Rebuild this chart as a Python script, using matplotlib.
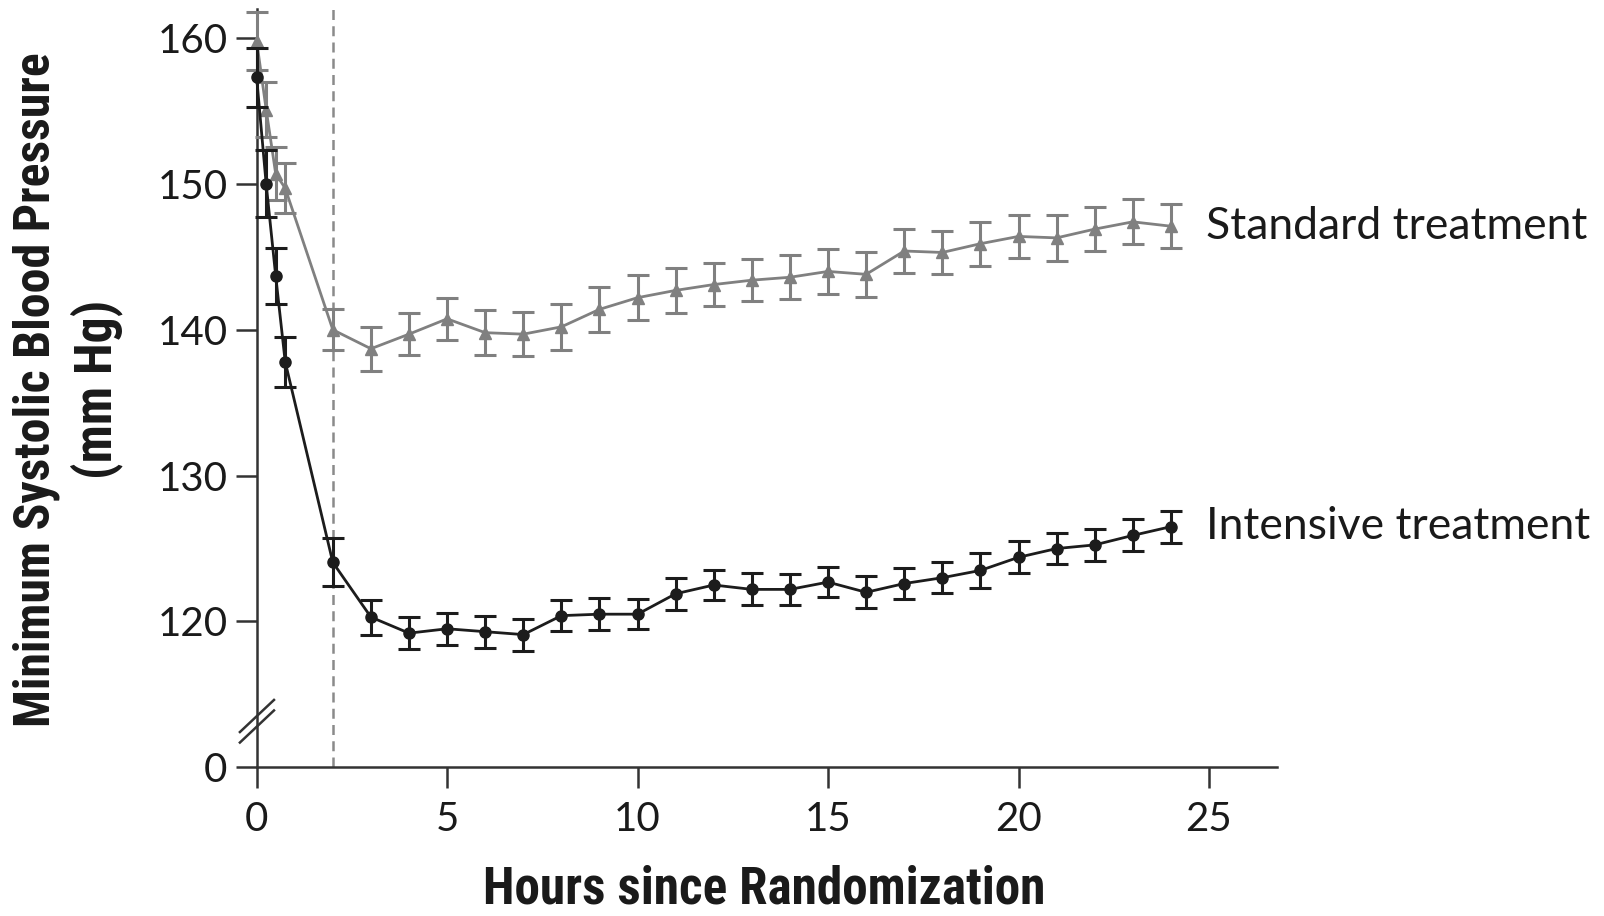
import matplotlib
matplotlib.use('Agg')
import matplotlib.pyplot as plt
from matplotlib import font_manager

# hours since randomization (first hour sampled every 15 min)
hours = [0, 0.25, 0.5, 0.75] + list(range(2, 25))

standard_mean = [159.8, 155.1, 150.7, 149.7,
                 140.0, 138.7, 139.7, 140.75, 139.8, 139.7, 140.2, 141.4, 142.2,
                 142.7, 143.1, 143.4, 143.6, 144.0, 143.8, 145.4, 145.3, 145.9,
                 146.4, 146.3, 146.9, 147.4, 147.1]
standard_err = [2.0, 1.9, 1.8, 1.7,
                1.4, 1.5, 1.45, 1.45, 1.55, 1.5, 1.6, 1.55, 1.55,
                1.55, 1.5, 1.45, 1.5, 1.55, 1.55, 1.5, 1.5, 1.5,
                1.45, 1.6, 1.5, 1.55, 1.5]

intensive_mean = [157.3, 150.0, 143.7, 137.8,
                  124.05, 120.3, 119.2, 119.5, 119.3, 119.1, 120.4, 120.5, 120.5,
                  121.9, 122.5, 122.2, 122.2, 122.7, 122.0, 122.6, 123.0, 123.5,
                  124.4, 125.0, 125.25, 125.9, 126.5]
intensive_err = [2.0, 2.3, 1.9, 1.7,
                 1.65, 1.2, 1.1, 1.1, 1.1, 1.1, 1.05, 1.1, 1.05,
                 1.1, 1.0, 1.1, 1.05, 1.05, 1.1, 1.05, 1.05, 1.2,
                 1.1, 1.05, 1.1, 1.1, 1.1]

# broken y axis: the "0" tick is drawn where 110 would be
y_ticks = [110, 120, 130, 140, 150, 160]
y_tick_labels = ['0', '120', '130', '140', '150', '160']
x_ticks = [0, 5, 10, 15, 20, 25]
end_labels = ['Standard treatment', 'Intensive treatment']

GRAY = '#808080'
BLACK = '#1c1c1c'
AXIS = '#333333'

installed = {f.name for f in font_manager.fontManager.ttflist}
text_font = 'Lato' if 'Lato' in installed else 'DejaVu Sans'
label_font = text_font
for cand in ['Liberation Sans Narrow', 'Roboto Condensed', 'Open Sans Condensed']:
    if cand in installed:
        label_font = cand
        break
plt.rcParams['font.family'] = [text_font, 'DejaVu Sans']

fig = plt.figure(figsize=(16.04, 9.16), dpi=100)
ax = fig.add_axes([0.160, 0.1623, 0.636, 0.828])

ax.axvline(2, color='#8a8a8a', lw=1.8, ls=(0, (4, 2.5)), zorder=1)

ax.errorbar(hours, standard_mean, yerr=standard_err, color=GRAY, marker='^',
            ms=8, lw=2.0, elinewidth=2.2, capsize=8, capthick=2.2,
            clip_on=False, zorder=3)
ax.errorbar(hours, intensive_mean, yerr=intensive_err, color=BLACK, marker='o',
            ms=8, lw=2.0, elinewidth=2.2, capsize=8, capthick=2.2,
            clip_on=False, zorder=4)

for label, mean in zip(end_labels, [standard_mean, intensive_mean]):
    ax.annotate(label, xy=(hours[-1], mean[-1]), xytext=(25, 0),
                textcoords='offset points', va='center', ha='left',
                fontsize=32, color='#1a1a1a', annotation_clip=False)

ax.set_xlim(0, 26.78)
ax.set_ylim(110, 162)
ax.set_xticks(x_ticks)
ax.set_yticks(y_ticks)
ax.set_yticklabels(y_tick_labels)

for side in ['top', 'right']:
    ax.spines[side].set_visible(False)
for side in ['left', 'bottom']:
    ax.spines[side].set_color(AXIS)
    ax.spines[side].set_linewidth(1.8)
ax.tick_params(direction='out', length=15, width=1.8, color=AXIS,
               labelsize=29, labelcolor='#1a1a1a')
ax.tick_params(axis='x', pad=9)
ax.tick_params(axis='y', pad=6)

# axis break marks
trans = ax.get_yaxis_transform()
for yc in [113.52, 112.8]:
    ax.plot([-0.0164, 0.017], [yc - 1.1, yc + 1.1], color=AXIS, lw=1.8,
            transform=trans, clip_on=False, zorder=5)

# axis titles: sized so that their length matches the reference
ylab1 = fig.text(36 / 1604, 0.575, 'Minimum Systolic Blood Pressure',
                 rotation=90, ha='center', va='center', fontsize=36,
                 fontweight='bold', family=[label_font, 'DejaVu Sans'],
                 color='#1a1a1a')
ylab2 = fig.text(97 / 1604, 0.575, '(mm Hg)', rotation=90, ha='center',
                 va='center', fontsize=36, fontweight='bold',
                 family=[label_font, 'DejaVu Sans'], color='#1a1a1a')
xlab = fig.text(764 / 1604, 0.002, 'Hours since Randomization',
                ha='center', va='bottom', fontsize=38, fontweight='bold',
                family=[label_font, 'DejaVu Sans'], color='#1a1a1a')

fig.canvas.draw()
renderer = fig.canvas.get_renderer()
for txt, target, along in [(ylab1, 675, 'h'), (ylab2, 179, 'h'), (xlab, 562, 'w')]:
    bb = txt.get_window_extent(renderer)
    size = bb.height if along == 'h' else bb.width
    txt.set_fontsize(txt.get_fontsize() * target / size)

fig.savefig('out.png', dpi=100)
